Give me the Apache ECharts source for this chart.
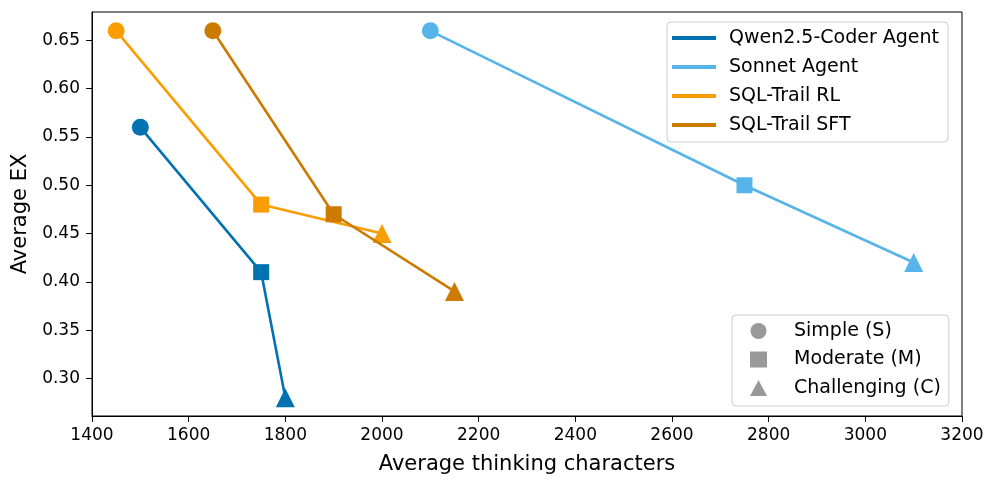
<!DOCTYPE html>
<html>
<head>
<meta charset="utf-8">
<script src="https://cdn.jsdelivr.net/npm/echarts@6/dist/echarts.min.js"></script>
<style>html,body{margin:0;padding:0;background:#fff}#c{width:997px;height:486px}</style>
</head>
<body>
<div id="c"></div>
<script>
const seriesNames = ['Qwen2.5-Coder Agent', 'Sonnet Agent', 'SQL-Trail RL', 'SQL-Trail SFT'];
const seriesColors = ['#0072B2', '#56B4E9', '#FA9D00', '#CC7A00'];
const qwenX = [1500, 1750, 1800];
const qwenY = [0.56, 0.41, 0.28];
const sonnetX = [2100, 2750, 3100];
const sonnetY = [0.66, 0.50, 0.42];
const rlX = [1450, 1750, 2000];
const rlY = [0.66, 0.48, 0.45];
const sftX = [1650, 1900, 2150];
const sftY = [0.66, 0.47, 0.39];
const difficultyNames = ['Simple (S)', 'Moderate (M)', 'Challenging (C)'];
const difficultySymbols = ['circle', 'rect', 'triangle'];
const yTicks = [0.30, 0.35, 0.40, 0.45, 0.50, 0.55, 0.60, 0.65];

const allX = [qwenX, sonnetX, rlX, sftX];
const allY = [qwenY, sonnetY, rlY, sftY];
const font = 'DejaVu Sans';
const symSize = [17, 16, 19];

const lineSeries = seriesNames.map((n, i) => ({
  name: n,
  type: 'line',
  data: allX[i].map((x, j) => ({value: [x, allY[i][j]], symbol: difficultySymbols[j], symbolSize: symSize[j]})),
  lineStyle: {color: seriesColors[i], width: 2.6},
  itemStyle: {color: seriesColors[i]},
  showAllSymbol: true,
  animation: false,
  z: 2 + i
}));
const shapeSeries = difficultyNames.map((n, j) => ({
  name: n, type: 'scatter', data: [], symbol: difficultySymbols[j],
  itemStyle: {color: '#808080'}
}));

const chart = echarts.init(document.getElementById('c'));
chart.setOption({
  animation: false,
  backgroundColor: '#fff',
  grid: {left: 92, right: 35, top: 12, bottom: 70, show: true, borderColor: '#000', borderWidth: 1, backgroundColor: 'transparent'},
  xAxis: {
    type: 'value', min: 1400, max: 3200, interval: 200,
    name: 'Average thinking characters', nameLocation: 'middle', nameGap: 38,
    nameTextStyle: {fontFamily: font, fontSize: 21, color: '#000'},
    axisLine: {show: true, lineStyle: {color: '#000', width: 1}},
    axisTick: {show: true, length: 6, lineStyle: {color: '#000'}},
    axisLabel: {fontFamily: font, fontSize: 17, color: '#000', margin: 11, formatter: v => String(v)},
    splitLine: {show: false}
  },
  yAxis: {
    type: 'value', min: 0.261, max: 0.6795,
    name: 'Average EX', nameLocation: 'middle', nameGap: 58,
    nameTextStyle: {fontFamily: font, fontSize: 21, color: '#000'},
    axisLine: {show: true, lineStyle: {color: '#000', width: 1}},
    axisTick: {show: true, length: 6, lineStyle: {color: '#000'}, customValues: yTicks},
    axisLabel: {fontFamily: font, fontSize: 17, color: '#000', margin: 12, customValues: yTicks, formatter: v => v.toFixed(2)},
    splitLine: {show: false}
  },
  legend: [
    {
      orient: 'vertical', left: 667, top: 22,
      data: seriesNames.map(n => ({name: n, icon: 'rect'})),
      itemWidth: 44, itemHeight: 4, itemGap: 7,
      textStyle: {fontFamily: font, fontSize: 19, color: '#000', padding: [0, 0, 0, 8], lineHeight: 22},
      backgroundColor: 'rgba(255,255,255,0.85)', borderColor: '#cccccc', borderWidth: 1, borderRadius: 4,
      padding: [5, 9, 6, 5], selectedMode: false
    },
    {
      orient: 'vertical', left: 732, top: 315,
      data: difficultyNames.map((n, j) => ({name: n, icon: difficultySymbols[j]})),
      itemWidth: 17, itemHeight: 16, itemGap: 6.5,
      textStyle: {fontFamily: font, fontSize: 19, color: '#000', padding: [0, 0, 0, 22], lineHeight: 22},
      backgroundColor: 'rgba(255,255,255,0.85)', borderColor: '#cccccc', borderWidth: 1, borderRadius: 4,
      padding: [5, 8, 7, 18], selectedMode: false
    }
  ],
  series: lineSeries.concat(shapeSeries)
});
</script>
</body>
</html>
